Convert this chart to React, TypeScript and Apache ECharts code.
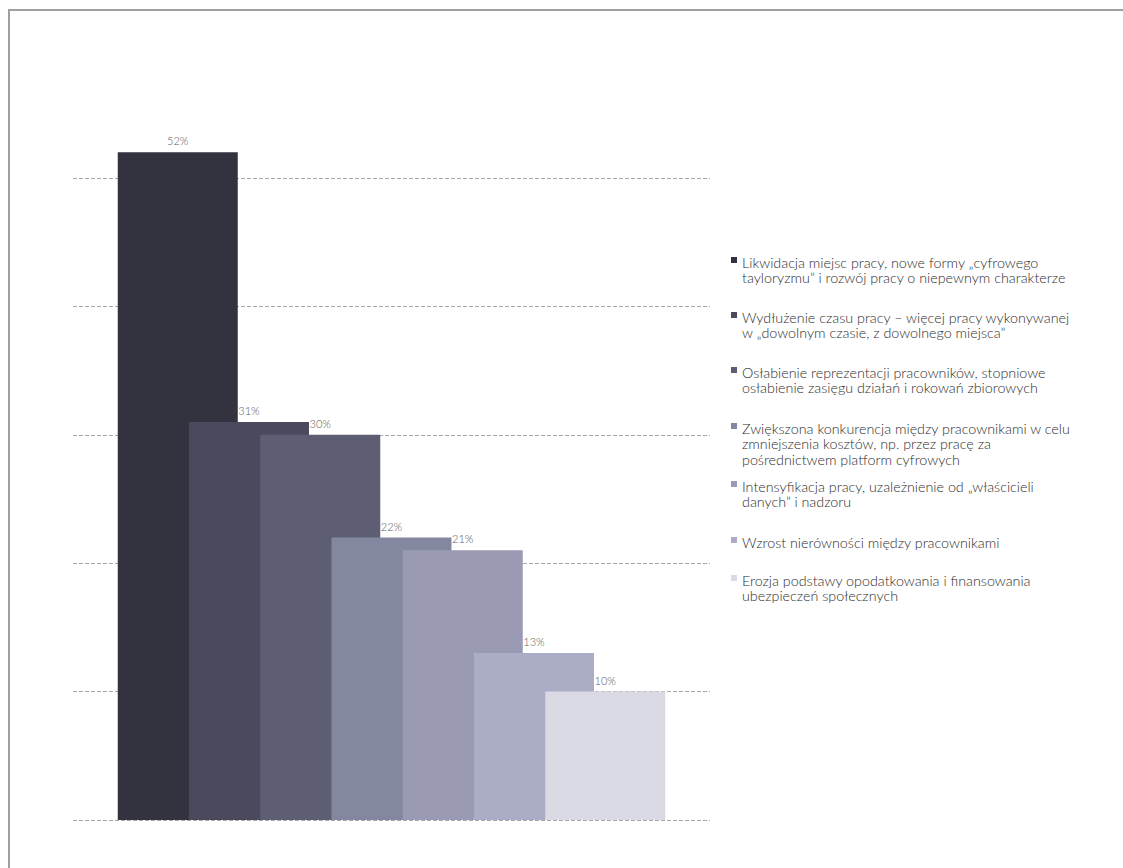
import React, { useEffect, useRef } from "react";
import * as echarts from "echarts";

const seriesNames = [
  "Likwidacja miejsc pracy, nowe formy „cyfrowego tayloryzmu” i rozwój pracy o niepewnym charakterze",
  "Wydłużenie czasu pracy – więcej pracy wykonywanej w „dowolnym czasie, z dowolnego miejsca”",
  "Osłabienie reprezentacji pracowników, stopniowe osłabienie zasięgu działań i rokowań zbiorowych",
  "Zwiększona konkurencja między pracownikami w celu zmniejszenia kosztów, np. przez pracę za pośrednictwem platform cyfrowych",
  "Intensyfikacja pracy, uzależnienie od „właścicieli danych” i nadzoru",
  "Wzrost nierówności między pracownikami",
  "Erozja podstawy opodatkowania i finansowania ubezpieczeń społecznych",
];

const legendLines = [
  ["Likwidacja miejsc pracy, nowe formy „cyfrowego", "tayloryzmu” i rozwój pracy o niepewnym charakterze"],
  ["Wydłużenie czasu pracy – więcej pracy wykonywanej", "w „dowolnym czasie, z dowolnego miejsca”"],
  ["Osłabienie reprezentacji pracowników, stopniowe", "osłabienie zasięgu działań i rokowań zbiorowych"],
  ["Zwiększona konkurencja między pracownikami w celu", "zmniejszenia kosztów, np. przez pracę za", "pośrednictwem platform cyfrowych"],
  ["Intensyfikacja pracy, uzależnienie od „właścicieli", "danych” i nadzoru"],
  ["Wzrost nierówności między pracownikami"],
  ["Erozja podstawy opodatkowania i finansowania", "ubezpieczeń społecznych"],
];

const values = [52, 31, 30, 22, 21, 13, 10];
const category = ["Zagrożenia"];
const colors = ["#33323f", "#4a4a5c", "#5d5e73", "#8487a0", "#9a9ab5", "#abacc6", "#dadae5"];
const legendFirstLineY = [262, 317, 372, 428, 486, 542, 580];

const LINE_H = 15.5;

export default function App() {
  const ref = useRef<HTMLDivElement>(null);

  useEffect(() => {
    if (!ref.current) return;
    const chart = echarts.init(ref.current, undefined, { renderer: "svg" });

    const series = seriesNames.map((name, i) => ({
      type: "bar",
      name,
      data: [values[i]],
      barWidth: 120,
      barGap: "-40.625%",
      clip: false,
      itemStyle: { color: colors[i] },
      label: {
        show: true,
        position: "top",
        distance: 6,
        formatter: "{c}%",
        color: "#5a5a5a",
        fontSize: 11,
        fontFamily: "Lato",
        fontWeight: 300,
      },
    }));

    const legends = seriesNames.map((name, i) => {
      const n = legendLines[i].length;
      const h = (n - 1) * LINE_H + 10;
      const iconPath = `path://M0,0h6v6h-6z M0,${h - 0.01}h0.01v0.01h-0.01z`;
      return {
        data: [{ name, icon: iconPath }],
        left: 731,
        top: legendFirstLineY[i] - LINE_H / 2,
        padding: 0,
        orient: "vertical",
        itemWidth: 6,
        itemHeight: h,
        selectedMode: false,
        formatter: () => legendLines[i].join("\n"),
        textStyle: {
          color: "#2e2e2e",
          fontSize: 14.3,
          fontFamily: "Lato",
          fontWeight: 300,
          lineHeight: LINE_H,
        },
      };
    });

    chart.setOption({
      animation: false,
      grid: { left: 73, right: 413, top: 178, bottom: 48 },
      xAxis: {
        type: "category",
        data: category,
        axisLine: { show: false },
        axisTick: { show: false },
        axisLabel: { show: false },
      },
      yAxis: {
        type: "value",
        min: 0,
        max: 50,
        interval: 10,
        axisLine: { show: false },
        axisTick: { show: false },
        axisLabel: { show: false },
        splitLine: { show: true, lineStyle: { type: "dashed", color: "#a8a8a8", width: 1 } },
      },
      legend: legends,
      series,
    });

    return () => chart.dispose();
  }, []);

  return (
    <>
      <div
        style={{
          position: "fixed",
          left: 8,
          top: 9,
          width: 1300,
          height: 1000,
          border: "2px solid #a0a0a0",
          boxSizing: "border-box",
          background: "#ffffff",
        }}
      />
      <div
        ref={ref}
        style={{ position: "fixed", left: 0, top: 0, width: 1123, height: 868 }}
      />
    </>
  );
}
